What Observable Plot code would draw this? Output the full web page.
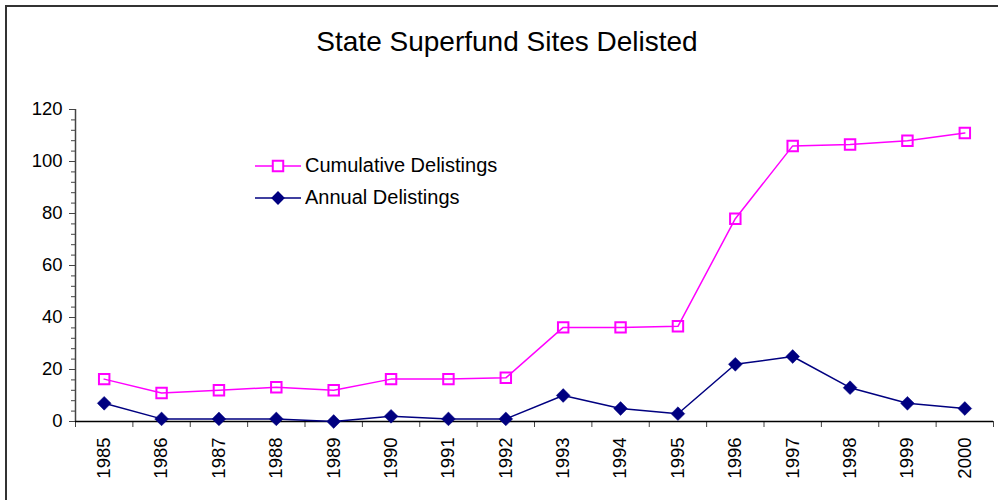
<!DOCTYPE html>
<html>
<head>
<meta charset="utf-8">
<script src="https://cdn.jsdelivr.net/npm/d3@7"></script>
<script src="https://cdn.jsdelivr.net/npm/@observablehq/plot@0.6"></script>
<style>
  html, body { margin: 0; padding: 0; background: #fff; }
  #wrap { position: relative; width: 998px; height: 500px; overflow: hidden; font-family: "Liberation Sans", Arial, sans-serif; }
  #frame { position: absolute; left: 5px; top: 5px; width: 1100px; height: 600px; border-left: 2px solid #333; border-top: 2px solid #333; pointer-events: none; }
  #title { height: 70px; line-height: 84px; text-align: center; font-size: 28px; color: #000; padding-left: 16px; box-sizing: border-box; }
  .legend { position: absolute; left: 255px; font-size: 20px; color: #000; display: flex; align-items: center; white-space: nowrap; }
  .legend svg { margin-right: 4px; }
</style>
</head>
<body>
<div id="wrap">
  <div id="title">State Superfund Sites Delisted</div>
  <div id="chart"></div>
  <div id="frame"></div>
</div>
<script>
const years = [1985,1986,1987,1988,1989,1990,1991,1992,1993,1994,1995,1996,1997,1998,1999,2000];
const cumulative = [16.3,11,12,13.2,12,16.3,16.3,16.8,36.2,36.2,36.6,78,106,106.5,108,111];
const annual = [7,1,1,1,0,2,1,1,10,5,3,22,25,13,7,5];
const yMajor = [0,20,40,60,80,100,120];
const yMinor = d3.range(0, 121, 4);
const seriesNames = ["Cumulative Delistings", "Annual Delistings"];
const seriesColors = ["#FF00FF", "#000080"];

const cumData = years.map((y, i) => ({year: y, value: cumulative[i]}));
const annData = years.map((y, i) => ({year: y, value: annual[i]}));
const boundaries = d3.range(years[0] - 0.5, years[years.length - 1] + 1, 1);

const fontFamily = '"Liberation Sans", Arial, sans-serif';

const plot = Plot.plot({
  width: 998,
  height: 430,
  marginLeft: 75,
  marginRight: 5,
  marginTop: 39,
  marginBottom: 79,
  style: {fontFamily, fontSize: "18.5px", color: "#000", background: "transparent"},
  x: {type: "linear", domain: [years[0] - 0.5, years[years.length - 1] + 0.5], label: null},
  y: {domain: [0, 120], label: null},
  marks: [
    Plot.axisY({ticks: yMinor, tickSize: 4, tickFormat: () => "", stroke: "#444", label: null}),
    Plot.axisY({ticks: yMajor, tickSize: 6, tickPadding: 7, stroke: "#444", fontSize: "18.5px", label: null}),
    Plot.ruleX([years[0] - 0.5], {stroke: "#444", strokeWidth: 1.5}),
    Plot.axisX({ticks: boundaries, tickSize: 6, tickFormat: () => "", stroke: "#444", label: null}),
    Plot.axisX({ticks: years, tickSize: 0, tickRotate: -90, tickPadding: 16, tickFormat: d => String(d), fontSize: "18.5px", label: null}),
    Plot.ruleY([0], {stroke: "#000", strokeWidth: 1.5}),
    Plot.line(cumData, {x: "year", y: "value", stroke: seriesColors[0], strokeWidth: 1.5}),
    Plot.dot(cumData, {x: "year", y: "value", symbol: "square", r: 5.9, stroke: seriesColors[0], strokeWidth: 2, fill: "none"}),
    Plot.line(annData, {x: "year", y: "value", stroke: seriesColors[1], strokeWidth: 1.5}),
    Plot.dot(annData, {x: "year", y: "value", symbol: "diamond2", r: 6.2, fill: seriesColors[1], stroke: seriesColors[1], strokeWidth: 0.5})
  ]
});
document.getElementById("chart").appendChild(plot);

// Legend (inside plot area, as in the reference)
const wrap = document.getElementById("wrap");
const legendTops = [165, 197];
seriesNames.forEach((name, i) => {
  const div = document.createElement("div");
  div.className = "legend";
  div.style.top = (legendTops[i] - 11) + "px";
  const ns = "http://www.w3.org/2000/svg";
  const svg = document.createElementNS(ns, "svg");
  svg.setAttribute("width", 46);
  svg.setAttribute("height", 22);
  const line = document.createElementNS(ns, "line");
  line.setAttribute("x1", 0); line.setAttribute("x2", 46);
  line.setAttribute("y1", 11); line.setAttribute("y2", 11);
  line.setAttribute("stroke", seriesColors[i]); line.setAttribute("stroke-width", 1.5);
  svg.appendChild(line);
  const sym = document.createElementNS(ns, "path");
  if (i === 0) {
    sym.setAttribute("d", d3.symbol(d3.symbolSquare, Math.PI * 5.9 * 5.9)());
    sym.setAttribute("fill", "white");
    sym.setAttribute("stroke", seriesColors[0]);
    sym.setAttribute("stroke-width", 2);
  } else {
    sym.setAttribute("d", d3.symbol(d3.symbolDiamond2, Math.PI * 6.2 * 6.2)());
    sym.setAttribute("fill", seriesColors[1]);
  }
  sym.setAttribute("transform", "translate(23,11)");
  svg.appendChild(sym);
  div.appendChild(svg);
  const span = document.createElement("span");
  span.textContent = name;
  div.appendChild(span);
  wrap.appendChild(div);
});
</script>
</body>
</html>
